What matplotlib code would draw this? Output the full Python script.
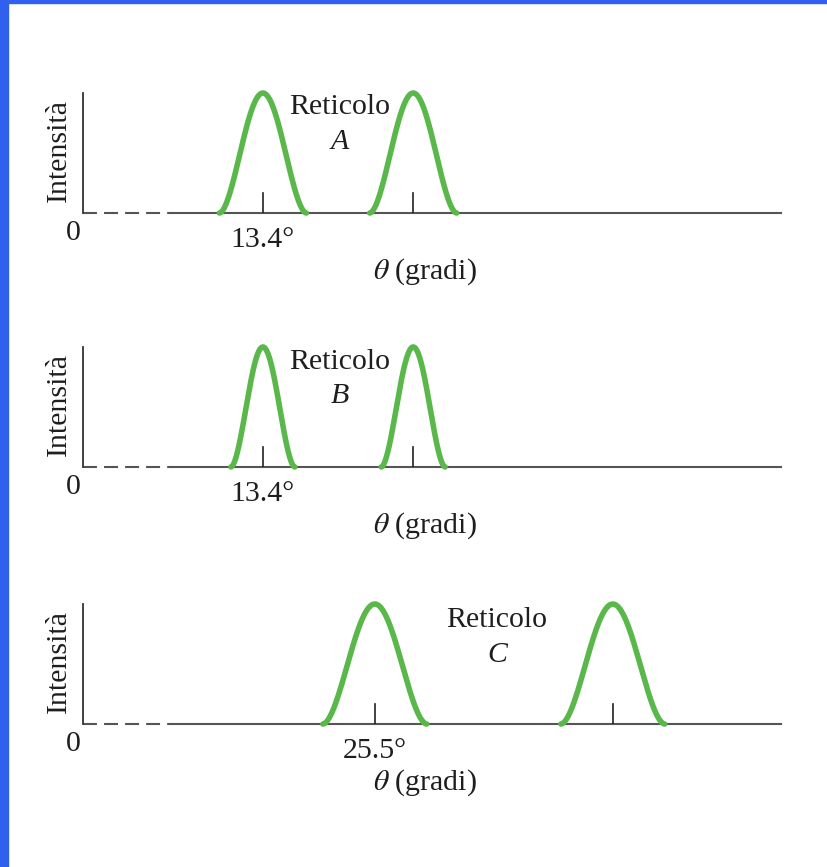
import numpy as np
import matplotlib
matplotlib.use("Agg")
import matplotlib.pyplot as plt
from matplotlib.patches import Rectangle

# reticoli (gratings) and the orders of their diffraction peaks
gratings = ['A', 'B', 'C']
peak_centres = [[13.4, 24.6], [13.4, 24.6], [25.5, 46.3]]   # gradi
peak_half_widths = [3.24, 2.38, 4.54]                       # half width at the foot
peak_height = 1.0
x_max = [52.0, 52.0, 61.0]
first_labels = ['13.4°', '13.4°', '25.5°']

# where each panel sits on the page (fraction of figure) and where the label goes
panel_bottoms = [0.7543, 0.4614, 0.1649]
label_pos = [(0.368, 0.883, 0.59), (0.368, 0.872, 0.59), (0.593, 0.867, 0.575)]

plt.rcParams['font.family'] = 'Liberation Serif'
plt.rcParams['mathtext.fontset'] = 'stix'
fs = 21.5
txt = '#1e1e1e'
green = '#5ab84b'

fig = plt.figure(figsize=(8.28, 8.67), dpi=100)
fig.patches.append(Rectangle((0, 0), 8/828, 1, transform=fig.transFigure, color='#3060ee', zorder=0))
fig.patches.append(Rectangle((0, 1 - 3/867), 1, 3/867, transform=fig.transFigure, color='#3060ee', zorder=0))

for i, g in enumerate(gratings):
    ax = fig.add_axes([83/828, panel_bottoms[i], 698/828, 120/867])
    ax.set_xlim(0, x_max[i])
    ax.set_ylim(0, 1)
    for s in ['top', 'right', 'bottom']:
        ax.spines[s].set_visible(False)
    ax.spines['left'].set_color('#333333')
    ax.spines['left'].set_linewidth(1.3)
    ax.set_xticks([])
    ax.set_yticks([])

    # baseline: dashed near the origin, solid afterwards
    tr = ax.get_yaxis_transform()
    ax.plot([0, 0.1275], [0, 0], transform=tr, color='#555555', lw=1.5,
            ls=(0, (6.7, 3.4)), clip_on=False)
    ax.plot([0.1275, 1], [0, 0], transform=tr, color='#555555', lw=1.5, clip_on=False)

    w = peak_half_widths[i]
    for c in peak_centres[i]:
        xs = np.linspace(c - w, c + w, 200)
        ys = peak_height * np.abs(np.cos(np.pi * (xs - c) / (2 * w))) ** 1.8
        ax.plot(xs, ys, color=green, lw=4, clip_on=False, solid_capstyle='round')
        ax.plot([c, c], [0, 0.167], color='#222222', lw=1.2)

    ax.annotate('0', xy=(0, 0), xytext=(-10, -20), textcoords='offset pixels',
                ha='center', va='center', fontsize=fs, color=txt)
    ax.annotate(first_labels[i], xy=(peak_centres[i][0], 0), xytext=(0, -27),
                textcoords='offset pixels', ha='center', va='center', fontsize=fs, color=txt)
    ax.annotate(r'$\theta$ (gradi)', xy=(0.49, 0), xycoords='axes fraction',
                xytext=(0, -59), textcoords='offset pixels', ha='center', va='center',
                fontsize=fs, color=txt)
    ax.annotate('Intensità', xy=(0, 0.52), xycoords='axes fraction', xytext=(-24, 0),
                textcoords='offset pixels', ha='center', va='center', rotation=90,
                fontsize=fs, color=txt)

    lx, ly1, ly2 = label_pos[i]
    ax.text(lx, ly1, 'Reticolo', transform=ax.transAxes, ha='center', va='center',
            fontsize=fs, color=txt)
    ax.text(lx, ly2, g, transform=ax.transAxes, ha='center', va='center',
            fontsize=fs, color=txt, style='italic')

fig.savefig('out.png', dpi=100)
